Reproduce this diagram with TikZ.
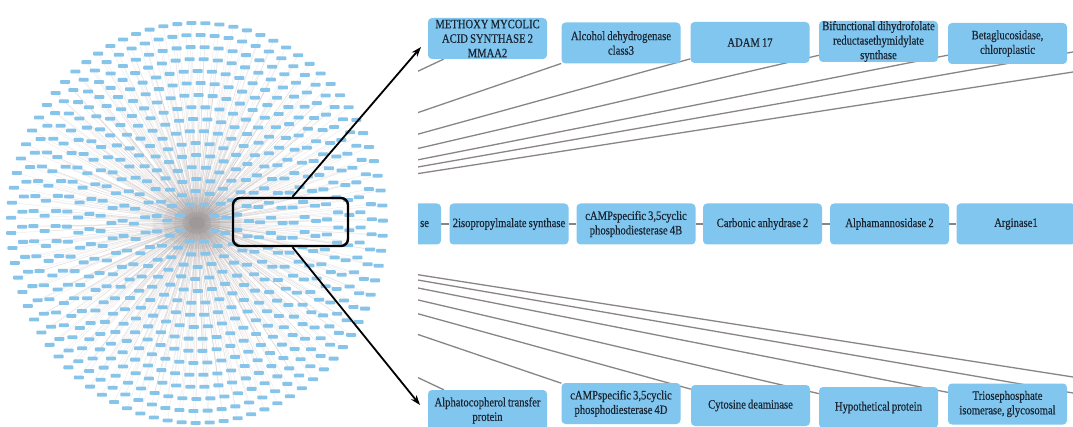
\documentclass[tikz,border=0pt]{standalone}
\usepackage{fontspec}
\setmainfont{Liberation Serif}
\newfontfamily\boxfont{Liberation Serif}[FakeStretch=0.83, WordSpace=0.8, FakeBold=0.5]
\usetikzlibrary{arrows.meta,calc}
\pgfdeclarelayer{back}
\pgfdeclarelayer{bg}
\pgfsetlayers{back,bg,main}
\definecolor{boxblue}{HTML}{80C6EE}
\definecolor{txtcol}{HTML}{1B2635}
\definecolor{edgegray}{HTML}{8A8585}
\definecolor{netblue}{HTML}{86C4EA}
\definecolor{netedge}{HTML}{BFB3B3}
\tikzset{
  pbox/.style={fill=boxblue, rounded corners=4pt, minimum width=119pt, minimum height=41pt,
    inner sep=0pt, align=center, text=txtcol,
    font=\boxfont\fontsize{12.8}{14.5}\selectfont},
  zline/.style={draw=edgegray, line width=1.3pt},
  mini/.style={fill=netblue, rounded corners=0.8pt, minimum width=10pt, minimum height=3.8pt, inner sep=0pt},
  netline/.style={draw=netedge, line width=0.25pt, opacity=0.4},
  zoomframe/.style={draw=black, line width=2.4pt, rounded corners=7pt},
  bigarrow/.style={draw=black, line width=1.8pt, -{Stealth[length=10pt,width=7pt]}},
}
\begin{document}
\begin{tikzpicture}[x=1pt,y=-1pt]
\useasboundingbox (0,0) rectangle (1073,427);
\begin{pgfonlayer}{back}
\fill[white] (0,0) rectangle (1073,427);
\end{pgfonlayer}

% ---------- left: network overview ----------
\coordinate (hub) at (197,223);
% edges from the hub to every position
\foreach \k in {1,...,16}{
  \pgfmathsetmacro\rad{12*\k+8}
  \pgfmathtruncatemacro\cnt{2*pi*\rad/15}
  \pgfmathsetmacro\stp{360/\cnt}
  \foreach \j in {1,...,\cnt}{
    \pgfmathsetmacro\ang{\stp*\j+23*\k}
    \coordinate (p\k-\j) at ({197+0.93*\rad*cos(\ang)},{223+\rad*sin(\ang)});
    \draw[netline] (hub) -- (p\k-\j);
  }
}
% hub haze
\foreach \rr/\op in {34/0.08, 26/0.10, 18/0.12, 11/0.15, 6/0.2}{
  \fill[gray, opacity=\op] (hub) ellipse[x radius=\rr*1.3, y radius=\rr];
}
% the small nodes
\foreach \k in {1,...,16}{
  \pgfmathsetmacro\rad{12*\k+8}
  \pgfmathtruncatemacro\cnt{2*pi*\rad/15}
  \foreach \j in {1,...,\cnt}{
    \node[mini] (s\k-\j) at (p\k-\j) {};
  }
}

% zoom frame and arrows
\node[zoomframe, minimum width=115pt, minimum height=48pt] (zbox) at (290.5,222) {};
\coordinate (tipT) at (421,47);
\coordinate (tipB) at (420,405);
\draw[bigarrow] ($(zbox.north)+(2,0)$) -- (tipT);
\draw[bigarrow] ($(zbox.south)+(2,0)$) -- (tipB);

% ---------- right: zoomed view ----------
\begin{scope}
\clip (418,0) rectangle (1073,427);
% top row
\node[pbox] (t1) at (487.5,38.5) {METHOXY MYCOLIC\\ACID SYNTHASE 2\\MMAA2};
\node[pbox] (t2) at (621,43) {Alcohol dehydrogenase\\class3};
\node[pbox] (t3) at (750,42.5) {ADAM 17};
\node[pbox] (t4) at (878.5,41.5) {Bifunctional dihydrofolate\\reductasethymidylate\\synthase};
\node[pbox] (t5) at (1007.5,43.5) {Betaglucosidase,\\chloroplastic};
% middle row
\node[pbox, minimum width=60pt, text width=36pt, align=right] (m0) at (411,224) {se};
\node[pbox] (m1) at (509,224) {2isopropylmalate synthase};
\node[pbox] (m2) at (636,224) {cAMPspecific 3,5cyclic\\phosphodiesterase 4B};
\node[pbox] (m3) at (762.5,224) {Carbonic anhydrase 2};
\node[pbox] (m4) at (889.5,224) {Alphamannosidase 2};
\node[pbox] (m5) at (1016,224) {Arginase1};
% bottom row
\node[pbox] (b1) at (487.5,410.5) {Alphatocopherol transfer\\protein};
\node[pbox] (b2) at (621,403.5) {cAMPspecific 3,5cyclic\\phosphodiesterase 4D};
\node[pbox] (b3) at (750.5,405.5) {Cytosine deaminase};
\node[pbox] (b4) at (878.5,407.5) {Hypothetical protein};
\node[pbox] (b5) at (1007.5,404) {Triosephosphate\\isomerase, glycosomal};
\end{scope}

\coordinate (zhub) at (93,224);
\coordinate (offT1) at (1073,52);
\coordinate (offT2) at (1073,72);
\coordinate (offB1) at (1073,377);
\coordinate (offB2) at (1073,393);
\begin{pgfonlayer}{bg}
\begin{scope}
\clip (418,0) rectangle (1073,427);
\foreach \t in {t1,t2,t3,t4,t5,offT1,offT2,b1,b2,b3,b4,b5,offB1,offB2}{
  \draw[zline] (zhub) -- (\t);
}
\draw[zline] (m0) -- (m1) -- (m2) -- (m3) -- (m4) -- (m5);
\end{scope}
\end{pgfonlayer}
\end{tikzpicture}
\end{document}
